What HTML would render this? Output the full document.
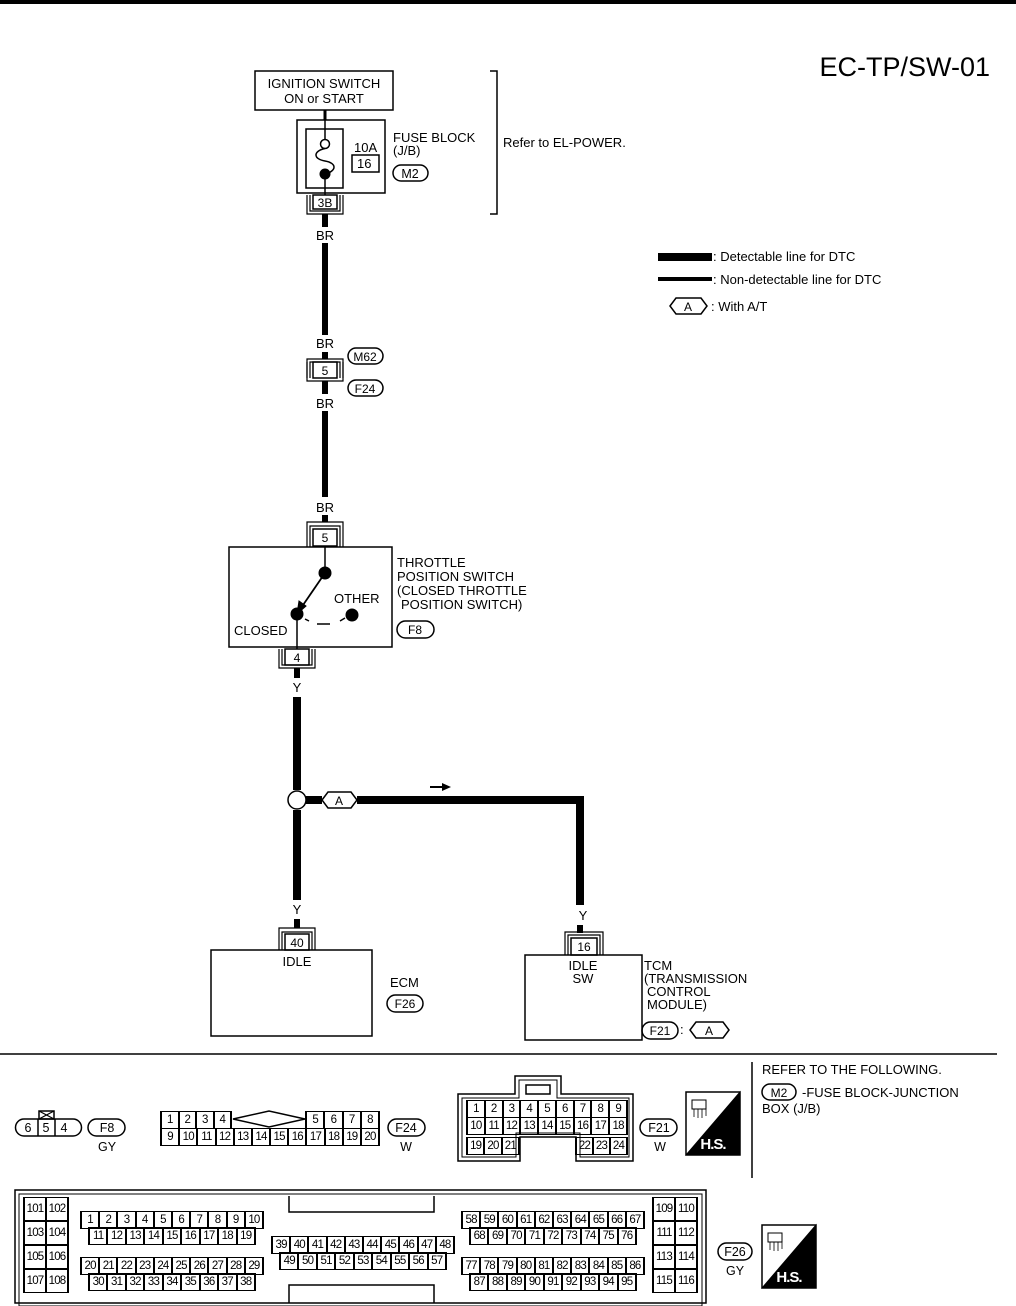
<!DOCTYPE html>
<html><head><meta charset="utf-8"><style>
body{margin:0;background:#fff;}
#c{position:relative;width:1016px;height:1306px;overflow:hidden;font-family:"Liberation Sans",sans-serif;}
svg{position:absolute;left:0;top:0;}
.r{position:absolute;display:flex;border:1.5px solid #000;height:16px;box-sizing:content-box;}
.r span{flex:1;border-left:1px solid #000;border-right:1px solid #000;font-size:11.5px;line-height:16px;text-align:center;letter-spacing:-0.8px;box-sizing:border-box;}
</style></head><body><div id="c">
<svg width="1016" height="1306" viewBox="0 0 1016 1306" font-family="Liberation Sans, sans-serif" fill="none" stroke="#000">
<rect x="0" y="0" width="1016" height="4" fill="#000" stroke="none"/>
<text x="990" y="76" font-size="27" text-anchor="end" fill="#000" stroke="none">EC-TP/SW-01</text>
<rect x="255" y="71" width="138" height="39" stroke-width="1.5"/>
<g fill="#000" stroke="none" font-size="13" text-anchor="middle">
<text x="324" y="88">IGNITION SWITCH</text><text x="324" y="103">ON or START</text></g>
<line x1="325" y1="110" x2="325" y2="120" stroke-width="3"/>
<rect x="297" y="120" width="88" height="73" stroke-width="1.5"/>
<rect x="306" y="129" width="37" height="59" stroke-width="1.5"/>
<line x1="325" y1="120" x2="325" y2="139" stroke-width="1.5"/>
<circle cx="325" cy="144" r="4.5" stroke-width="1.5"/>
<path d="M325 148.5 C313 151 313 159 325 161 C337 163 337 171 325 174" stroke-width="1.5"/>
<circle cx="325" cy="174" r="5" fill="#000"/>
<line x1="325" y1="174" x2="325" y2="195" stroke-width="1.5"/>
<rect x="352" y="155" width="27" height="17" stroke-width="1.5"/>
<g fill="#000" stroke="none" font-size="13">
<text x="354" y="152">10A</text><text x="357" y="168">16</text>
<text x="393" y="142">FUSE BLOCK</text><text x="393" y="155">(J/B)</text>
<text x="503" y="147">Refer to EL-POWER.</text></g>
<rect x="393" y="165" width="35" height="16" rx="8" stroke-width="1.5"/>
<text x="410" y="178" font-size="12.5" text-anchor="middle" fill="#000" stroke="none">M2</text>
<rect x="313" y="195" width="24" height="14" stroke-width="1.5"/>
<text x="325" y="207" font-size="12" text-anchor="middle" fill="#000" stroke="none">3B</text>
<path d="M307 195 V214 H343 V195 M310 195 V211 H340 V195" stroke-width="1.2"/>
<path d="M490 71 H497 V214 H490" stroke-width="1.5"/>
<line x1="325" y1="214" x2="325" y2="227" stroke-width="6"/>
<line x1="325" y1="243" x2="325" y2="335" stroke-width="6"/>
<g fill="#000" stroke="none" font-size="13" text-anchor="middle">
<text x="325" y="240">BR</text><text x="325" y="348">BR</text><text x="325" y="408">BR</text><text x="325" y="512">BR</text></g>
<rect x="313" y="362" width="24" height="16" stroke-width="1.5"/>
<text x="325" y="375" font-size="12" text-anchor="middle" fill="#000" stroke="none">5</text>
<path d="M307 378 V359 H343 V378 M310 378 V362 H340 V378" stroke-width="1.2"/>
<path d="M307 362 V381 H343 V362" stroke-width="1.2"/>
<line x1="325" y1="352" x2="325" y2="359" stroke-width="6"/>
<line x1="325" y1="381" x2="325" y2="394" stroke-width="6"/>
<rect x="348" y="348" width="35" height="16" rx="8" stroke-width="1.5"/>
<rect x="348" y="380" width="35" height="16" rx="8" stroke-width="1.5"/>
<g fill="#000" stroke="none" font-size="12" text-anchor="middle"><text x="365" y="361">M62</text><text x="365" y="393">F24</text></g>
<line x1="325" y1="411" x2="325" y2="497" stroke-width="6"/>
<line x1="325" y1="515" x2="325" y2="522" stroke-width="6"/>
<rect x="313" y="529" width="24" height="17" stroke-width="1.5"/>
<text x="325" y="542" font-size="12" text-anchor="middle" fill="#000" stroke="none">5</text>
<path d="M307 547 V522 H343 V547 M310 547 V526 H340 V547" stroke-width="1.2"/>
<rect x="229" y="547" width="163" height="100" stroke-width="1.5"/>
<line x1="325" y1="547" x2="325" y2="573" stroke-width="1.5"/>
<circle cx="325" cy="573" r="6" fill="#000"/>
<line x1="325" y1="573" x2="301" y2="608" stroke-width="1.8"/>
<path d="M297 614 L299 601 L306 606 Z" fill="#000"/>
<circle cx="297" cy="614" r="6" fill="#000"/>
<circle cx="352" cy="615" r="6" fill="#000"/>
<path d="M305 619 L309 621 M317 624 L330 624 M340 621 L345 618" stroke-width="1.5"/>
<line x1="297" y1="614" x2="297" y2="649" stroke-width="1.5"/>
<g fill="#000" stroke="none" font-size="13"><text x="234" y="635">CLOSED</text><text x="334" y="603">OTHER</text>
<text x="397" y="567">THROTTLE</text><text x="397" y="581">POSITION SWITCH</text><text x="397" y="595">(CLOSED THROTTLE</text><text x="401" y="609">POSITION SWITCH)</text></g>
<rect x="397" y="621" width="37" height="17" rx="8.5" stroke-width="1.5"/>
<text x="415" y="634" font-size="12" text-anchor="middle" fill="#000" stroke="none">F8</text>
<rect x="285" y="649" width="24" height="16" stroke-width="1.5"/>
<text x="297" y="662" font-size="12" text-anchor="middle" fill="#000" stroke="none">4</text>
<path d="M279 649 V668 H315 V649 M282 649 V665 H312 V649" stroke-width="1.2"/>
<line x1="297" y1="668" x2="297" y2="678" stroke-width="6"/>
<text x="297" y="692" font-size="13" text-anchor="middle" fill="#000" stroke="none">Y</text>
<line x1="297" y1="697" x2="297" y2="790" stroke-width="8"/>
<circle cx="297" cy="800" r="9" stroke-width="1.5"/>
<line x1="297" y1="810" x2="297" y2="900" stroke-width="8"/>
<text x="297" y="914" font-size="13" text-anchor="middle" fill="#000" stroke="none">Y</text>
<line x1="297" y1="919" x2="297" y2="928" stroke-width="6"/>
<rect x="285" y="934" width="24" height="16" stroke-width="1.5"/>
<text x="297" y="947" font-size="12" text-anchor="middle" fill="#000" stroke="none">40</text>
<path d="M279 950 V928 H315 V950 M282 950 V932 H312 V950" stroke-width="1.2"/>
<rect x="211" y="950" width="161" height="86" stroke-width="1.5"/>
<g fill="#000" stroke="none" font-size="13"><text x="297" y="966" text-anchor="middle">IDLE</text><text x="390" y="987">ECM</text></g>
<rect x="387" y="995" width="36" height="17" rx="8.5" stroke-width="1.5"/>
<text x="405" y="1008" font-size="12" text-anchor="middle" fill="#000" stroke="none">F26</text>
<line x1="306" y1="800" x2="322" y2="800" stroke-width="8"/>
<path d="M357 800 H580 V905" stroke-width="8"/>
<path d="M322 800 L328 792 H351 L357 800 L351 808 H328 Z" stroke-width="1.5" fill="#fff"/>
<text x="339" y="805" font-size="12" text-anchor="middle" fill="#000" stroke="none">A</text>
<line x1="430" y1="787" x2="443" y2="787" stroke-width="2"/><path d="M442 783 L451 787 L442 791 Z" fill="#000" stroke="none"/>
<text x="583" y="920" font-size="13" text-anchor="middle" fill="#000" stroke="none">Y</text>
<line x1="580" y1="925" x2="580" y2="933" stroke-width="6"/>
<rect x="571" y="938" width="26" height="17" stroke-width="1.5"/>
<text x="584" y="951" font-size="12" text-anchor="middle" fill="#000" stroke="none">16</text>
<path d="M565 955 V932 H603 V955 M568 955 V935 H600 V955" stroke-width="1.2"/>
<rect x="525" y="955" width="117" height="85" stroke-width="1.5"/>
<g fill="#000" stroke="none" font-size="13"><text x="583" y="970" text-anchor="middle">IDLE</text><text x="583" y="983" text-anchor="middle">SW</text>
<text x="644" y="970">TCM</text><text x="644" y="983">(TRANSMISSION</text><text x="647" y="996">CONTROL</text><text x="647" y="1009">MODULE)</text><text x="680" y="1034">:</text></g>
<rect x="642" y="1022" width="36" height="17" rx="8.5" stroke-width="1.5"/>
<text x="660" y="1035" font-size="12" text-anchor="middle" fill="#000" stroke="none">F21</text>
<path d="M690 1030 L696 1022 H723 L729 1030 L723 1038 H696 Z" stroke-width="1.5"/>
<text x="709" y="1035" font-size="12" text-anchor="middle" fill="#000" stroke="none">A</text>
<rect x="658" y="253" width="54" height="8" fill="#000" stroke="none"/>
<rect x="658" y="277" width="54" height="4" fill="#000" stroke="none"/>
<path d="M670 306 L676 298 H701 L707 306 L701 314 H676 Z" stroke-width="1.5"/>
<g fill="#000" stroke="none" font-size="13"><text x="688" y="311" font-size="12" text-anchor="middle">A</text>
<text x="713" y="261">: Detectable line for DTC</text><text x="713" y="284">: Non-detectable line for DTC</text><text x="711" y="311">: With A/T</text></g>
<line x1="0" y1="1054" x2="997" y2="1054" stroke-width="1.5"/>
<line x1="752" y1="1062" x2="752" y2="1178" stroke-width="1.5"/>
<g fill="#000" stroke="none" font-size="13"><text x="762" y="1074">REFER TO THE FOLLOWING.</text><text x="802" y="1097">-FUSE BLOCK-JUNCTION</text><text x="762" y="1113">BOX (J/B)</text></g>
<rect x="762" y="1084" width="34" height="16" rx="8" stroke-width="1.5"/>
<text x="779" y="1097" font-size="12" text-anchor="middle" fill="#000" stroke="none">M2</text>
<path d="M24 1119 H73 A8 8 0 0 1 73 1136 H24 A8 8 0 0 1 24 1119 Z" stroke-width="1.5"/>
<line x1="38" y1="1119" x2="38" y2="1136" stroke-width="1.5"/><line x1="55" y1="1119" x2="55" y2="1136" stroke-width="1.5"/>
<rect x="39" y="1111" width="15" height="8" stroke-width="1.5"/><path d="M39 1111 L54 1119 M54 1111 L39 1119" stroke-width="1.2"/>
<g fill="#000" stroke="none" font-size="12.5" text-anchor="middle"><text x="28" y="1132">6</text><text x="46" y="1132">5</text><text x="64" y="1132">4</text>
<text x="107" y="1132">F8</text><text x="107" y="1151">GY</text><text x="406" y="1132">F24</text><text x="406" y="1151">W</text><text x="659" y="1132">F21</text><text x="660" y="1151">W</text></g>
<rect x="88" y="1119" width="37" height="17" rx="8.5" stroke-width="1.5"/>
<rect x="388" y="1119" width="37" height="17" rx="8.5" stroke-width="1.5"/>
<rect x="640" y="1119" width="37" height="17" rx="8.5" stroke-width="1.5"/>
<path d="M233 1119 L269 1111 L305 1119 L269 1127 Z" stroke-width="1.5"/>
<path d="M458 1094 H515 V1076 H561 V1094 H633 V1161 H576 V1137 H520 V1161 H458 Z" stroke-width="1.5"/>
<path d="M462 1098 H519 V1080 H557 V1098 H629 V1157 H580 V1133 H516 V1157 H462 Z" stroke-width="1"/>
<rect x="526" y="1085" width="24" height="9" stroke-width="1.5"/>
<g id="hs"><rect x="686" y="1092" width="54" height="63" stroke-width="1.5"/><path d="M686 1155 L740 1092 V1155 Z" fill="#000"/>
<rect x="692" y="1100" width="14" height="9" stroke-width="1"/><path d="M694 1109 v8 M698 1109 v9 M702 1109 v9 M706 1109 v7" stroke-width="0.8"/>
<text x="713" y="1149" font-size="15" font-weight="bold" fill="#fff" stroke="none" text-anchor="middle" style="letter-spacing:-1px">H.S.</text></g>
<use href="#hs" x="76" y="133"/>
<rect x="15" y="1190" width="691" height="113" stroke-width="1.5"/>
<rect x="19" y="1194" width="683" height="112" stroke-width="1"/>
<path d="M289 1196 V1212 H434 V1196" stroke-width="1.5"/>
<path d="M289 1303 V1285 H434 V1303" stroke-width="1.5"/>
<rect x="718" y="1243" width="34" height="17" rx="8.5" stroke-width="1.5"/>
<g fill="#000" stroke="none" font-size="12.5" text-anchor="middle"><text x="735" y="1256">F26</text><text x="735" y="1275">GY</text></g>
</svg>
<div class="r" style="left:160px;top:1111px;width:70px"><span>1</span><span>2</span><span>3</span><span>4</span></div>
<div class="r" style="left:305px;top:1111px;width:73px"><span>5</span><span>6</span><span>7</span><span>8</span></div>
<div class="r" style="left:160px;top:1128px;width:218px"><span>9</span><span>10</span><span>11</span><span>12</span><span>13</span><span>14</span><span>15</span><span>16</span><span>17</span><span>18</span><span>19</span><span>20</span></div>
<div class="r" style="left:466px;top:1100px;width:160px;border-width:1px"><span>1</span><span>2</span><span>3</span><span>4</span><span>5</span><span>6</span><span>7</span><span>8</span><span>9</span></div>
<div class="r" style="left:466px;top:1117px;width:160px;border-width:1px"><span>10</span><span>11</span><span>12</span><span>13</span><span>14</span><span>15</span><span>16</span><span>17</span><span>18</span></div>
<div class="r" style="left:466px;top:1137px;width:52px;border-width:1px"><span>19</span><span>20</span><span>21</span></div>
<div class="r" style="left:575px;top:1137px;width:51px;border-width:1px"><span>22</span><span>23</span><span>24</span></div>
<div class="r" style="left:23px;top:1197px;width:44px;height:22px"><span style="line-height:22px">101</span><span style="line-height:22px">102</span></div>
<div class="r" style="left:23px;top:1221px;width:44px;height:22px"><span style="line-height:22px">103</span><span style="line-height:22px">104</span></div>
<div class="r" style="left:23px;top:1245px;width:44px;height:22px"><span style="line-height:22px">105</span><span style="line-height:22px">106</span></div>
<div class="r" style="left:23px;top:1269px;width:44px;height:22px"><span style="line-height:22px">107</span><span style="line-height:22px">108</span></div>
<div class="r" style="left:652px;top:1197px;width:44px;height:22px"><span style="line-height:22px">109</span><span style="line-height:22px">110</span></div>
<div class="r" style="left:652px;top:1221px;width:44px;height:22px"><span style="line-height:22px">111</span><span style="line-height:22px">112</span></div>
<div class="r" style="left:652px;top:1245px;width:44px;height:22px"><span style="line-height:22px">113</span><span style="line-height:22px">114</span></div>
<div class="r" style="left:652px;top:1269px;width:44px;height:22px"><span style="line-height:22px">115</span><span style="line-height:22px">116</span></div>
<div class="r" style="left:80px;top:1211px;width:182px"><span>1</span><span>2</span><span>3</span><span>4</span><span>5</span><span>6</span><span>7</span><span>8</span><span>9</span><span>10</span></div>
<div class="r" style="left:88px;top:1227px;width:166px"><span>11</span><span>12</span><span>13</span><span>14</span><span>15</span><span>16</span><span>17</span><span>18</span><span>19</span></div>
<div class="r" style="left:80px;top:1257px;width:182px"><span>20</span><span>21</span><span>22</span><span>23</span><span>24</span><span>25</span><span>26</span><span>27</span><span>28</span><span>29</span></div>
<div class="r" style="left:88px;top:1273px;width:166px"><span>30</span><span>31</span><span>32</span><span>33</span><span>34</span><span>35</span><span>36</span><span>37</span><span>38</span></div>
<div class="r" style="left:271px;top:1236px;width:182px"><span>39</span><span>40</span><span>41</span><span>42</span><span>43</span><span>44</span><span>45</span><span>46</span><span>47</span><span>48</span></div>
<div class="r" style="left:279px;top:1252px;width:166px"><span>49</span><span>50</span><span>51</span><span>52</span><span>53</span><span>54</span><span>55</span><span>56</span><span>57</span></div>
<div class="r" style="left:461px;top:1211px;width:182px"><span>58</span><span>59</span><span>60</span><span>61</span><span>62</span><span>63</span><span>64</span><span>65</span><span>66</span><span>67</span></div>
<div class="r" style="left:469px;top:1227px;width:166px"><span>68</span><span>69</span><span>70</span><span>71</span><span>72</span><span>73</span><span>74</span><span>75</span><span>76</span></div>
<div class="r" style="left:461px;top:1257px;width:182px"><span>77</span><span>78</span><span>79</span><span>80</span><span>81</span><span>82</span><span>83</span><span>84</span><span>85</span><span>86</span></div>
<div class="r" style="left:469px;top:1273px;width:166px"><span>87</span><span>88</span><span>89</span><span>90</span><span>91</span><span>92</span><span>93</span><span>94</span><span>95</span></div>
</div></body></html>
